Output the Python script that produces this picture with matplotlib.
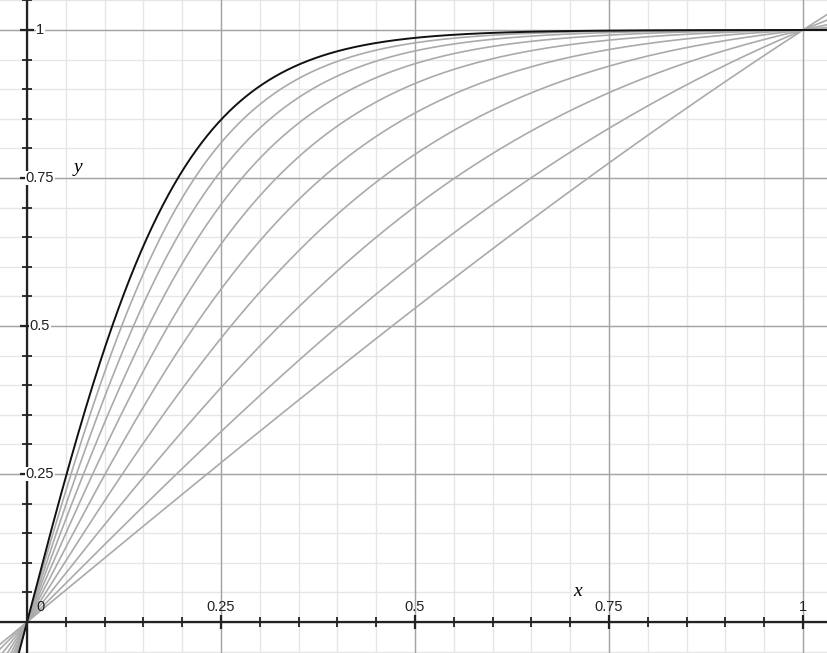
import numpy as np
import matplotlib
matplotlib.use("Agg")
import matplotlib.pyplot as plt

# steepness parameters of the curve family y = tanh(k x) / tanh(k)
k_values = [0.5, 1.0, 1.5, 2.0, 2.5, 3.0, 3.5, 4.0, 4.5]
k_highlight = 5.0
major_ticks = [0, 0.25, 0.5, 0.75, 1]
major_labels = ["0", "0.25", "0.5", "0.75", "1"]
minor_step = 0.05

W, H = 828, 653
fig = plt.figure(figsize=(W / 100, H / 100), dpi=100)
ax = fig.add_axes([0, 0, 1, 1])
x0px, x1px = 27, 803
y0px, y1px = 622, 30
sx = x1px - x0px
sy = y0px - y1px
ax.set_xlim(-x0px / sx, (W - x0px) / sx)
ax.set_ylim(-(H - y0px) / sy, y0px / sy)
ax.axis("off")

xmin, xmax = ax.get_xlim()
ymin, ymax = ax.get_ylim()
minor = np.arange(-0.05, 1.1 + 1e-9, minor_step)
for v in minor:
    ax.axvline(v, color="#e6e6e6", lw=1.0, zorder=0)
    ax.axhline(v, color="#e6e6e6", lw=1.0, zorder=0)
for v in major_ticks:
    ax.axvline(v, color="#a4a4a4", lw=1.0, zorder=1)
    ax.axhline(v, color="#a4a4a4", lw=1.0, zorder=1)

# axes
ax.axhline(0, color="#222222", lw=1.6, zorder=5)
ax.axvline(0, color="#222222", lw=1.6, zorder=5)
tk = minor[(minor > 0.001)]
ax.plot(tk, np.zeros_like(tk), ls="none", marker="|", ms=7, mew=1.3, color="#222222", zorder=6)
ax.plot(np.zeros_like(tk), tk, ls="none", marker="_", ms=7, mew=1.3, color="#222222", zorder=6)
ax.plot(major_ticks[1:], [0] * 4, ls="none", marker="|", ms=10, mew=1.6, color="#222222", zorder=6)
ax.plot([0] * 4, major_ticks[1:], ls="none", marker="_", ms=10, mew=1.6, color="#222222", zorder=6)

# curves
x = np.linspace(xmin, xmax, 1200)
for k in k_values:
    ax.plot(x, np.tanh(k * x) / np.tanh(k), color="#aaaaaa", lw=1.2, zorder=3)
ax.plot(x, np.tanh(k_highlight * x) / np.tanh(k_highlight), color="#111111", lw=1.4, zorder=4)

# tick labels
fnt = dict(family="Liberation Sans", fontsize=10.5, color="#222222")
lx = 0.0168
for v, lab in zip(major_ticks, major_labels):
    if v == 0:
        ax.text(lx, 0.0245, lab, ha="center", va="center", zorder=7, **fnt)
        continue
    ax.text(v, 0.0245, lab, ha="center", va="center", zorder=7, **fnt)
    ax.text(lx, v, lab, ha="center", va="center", zorder=7,
            bbox=dict(facecolor="white", edgecolor="none", pad=0.3), **fnt)

ax.text(0.066, 0.768, "y", family="Liberation Serif", style="italic", fontsize=14, ha="center", va="center", zorder=7)
ax.text(0.710, 0.052, "x", family="Liberation Serif", style="italic", fontsize=14, ha="center", va="center", zorder=7)

fig.savefig("out.png", dpi=100)
